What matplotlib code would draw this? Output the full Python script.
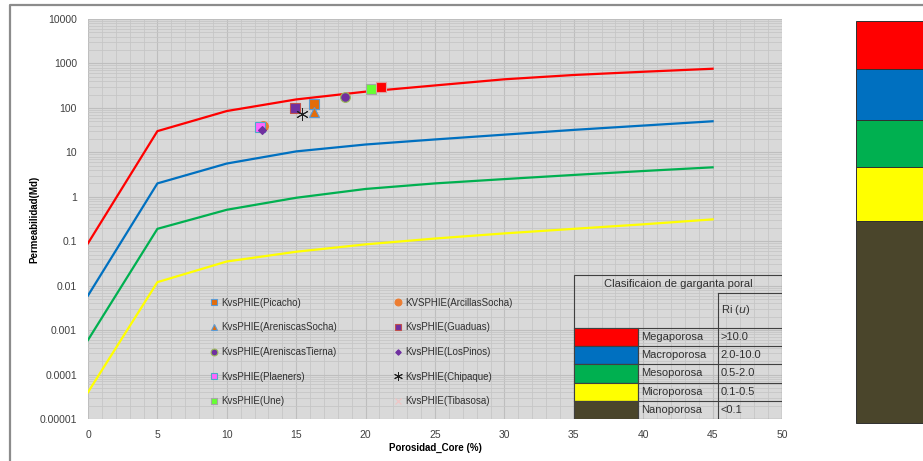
import matplotlib
matplotlib.use("Agg")
import matplotlib.pyplot as plt
from matplotlib.patches import Rectangle
from matplotlib.lines import Line2D
from matplotlib.ticker import FixedLocator, FixedFormatter, LogLocator, MultipleLocator

plt.rcParams['font.family'] = ['Liberation Sans', 'DejaVu Sans']

# porosity (%) where the pore-throat class curves are given
phi = [0, 5, 10, 15, 20, 25, 30, 35, 40, 45]
k_mega = [0.09, 30, 85, 155, 232, 320, 440, 550, 650, 760]
k_macro = [0.006, 2.0, 5.6, 10.5, 15, 19.5, 25, 32, 40, 50]
k_meso = [0.0006, 0.19, 0.51, 0.95, 1.5, 2.0, 2.5, 3.1, 3.8, 4.6]
k_micro = [0.00004, 0.012, 0.035, 0.058, 0.085, 0.115, 0.15, 0.19, 0.24, 0.31]
curve_colors = ['#FF0000', '#0070C0', '#00B050', '#FFFF00']

# core samples: (porosity, permeability)
picacho = ([16.3], [121])
arcillas_socha = ([12.6], [40])
areniscas_socha = ([16.3], [81])
guaduas = ([14.9], [98])
areniscas_tierna = ([18.5], [180])
los_pinos = ([12.5], [31])
plaeners = ([12.4], [38])
chipaque = ([15.4], [72])
une = ([20.4], [263])
tibasosa = ([], [])
extra = ([21.1], [290])

# pore-throat classification table
classes = ['Megaporosa', 'Macroporosa', 'Mesoporosa', 'Microporosa', 'Nanoporosa']
ranges = ['>10.0', '2.0-10.0', '0.5-2.0', '0.1-0.5', '<0.1']
class_colors = ['#FF0000', '#0070C0', '#00B050', '#FFFF00', '#4A452B']

ytick_vals = [1e-5, 1e-4, 1e-3, 1e-2, 1e-1, 1, 10, 100, 1000, 10000]
ytick_labels = ['0.00001', '0.0001', '0.001', '0.01', '0.1', '1', '10', '100', '1000', '10000']

fig = plt.figure(figsize=(9.23, 4.61), dpi=100)
ax = fig.add_axes([88/923, 1 - 419/461, 694/923, 400/461])
ax.set_facecolor('#D9D9D9')
ax.set_yscale('log')
ax.set_xlim(0, 50)
ax.set_ylim(1e-5, 1e4)

ax.xaxis.set_major_locator(MultipleLocator(5))
ax.xaxis.set_minor_locator(MultipleLocator(1))
ax.yaxis.set_major_locator(FixedLocator(ytick_vals))
ax.yaxis.set_major_formatter(FixedFormatter(ytick_labels))
ax.yaxis.set_minor_locator(LogLocator(base=10, subs=range(2, 10), numticks=20))
ax.grid(True, which='major', color='#BEBEBE', lw=0.8)
ax.grid(True, which='minor', color='#C6C6C6', lw=0.6)
ax.set_axisbelow(True)
for s in ax.spines.values():
    s.set_visible(False)
ax.tick_params(which='both', length=0, labelsize=7.5, colors='#404040', pad=8)
ax.yaxis.set_minor_formatter(FixedFormatter([]))

for vals, c in zip([k_mega, k_macro, k_meso, k_micro], curve_colors):
    ax.plot(phi, vals, color=c, lw=1.6, zorder=2)

series = [
    (picacho, 'KvsPHIE(Picacho)', dict(marker='s', color='#E46C0A', mec='#5B9BD5')),
    (areniscas_socha, 'KvsPHIE(AreniscasSocha)', dict(marker='^', color='#E46C0A', mec='#5B9BD5')),
    (areniscas_tierna, 'KvsPHIE(AreniscasTierna)', dict(marker='o', color='#7030A0', mec='#9BBB59')),
    (plaeners, 'KvsPHIE(Plaeners)', dict(marker='s', color='#FF66FF', mec='#4BACC6')),
    (une, 'KvsPHIE(Une)', dict(marker='s', color='#66FF33', mec='#A6A6A6')),
    (arcillas_socha, 'KVSPHIE(ArcillasSocha)', dict(marker='o', color='#ED7D31', mec='#ED7D31')),
    (guaduas, 'KvsPHIE(Guaduas)', dict(marker='s', color='#7030A0', mec='#C0504D')),
    (los_pinos, 'KvsPHIE(LosPinos)', dict(marker='D', color='#7030A0', mec='#7030A0', ms=4)),
    (chipaque, 'KvsPHIE(Chipaque)', dict(marker=(6, 2, 0), color='#202020', mec='#202020', ms=9, mew=0.7)),
    (tibasosa, 'KvsPHIE(Tibasosa)', dict(marker='x', color='#F2C4C4', mec='#F2C4C4')),
]
zorder_map = {'KVSPHIE(ArcillasSocha)': 3, 'KvsPHIE(Plaeners)': 4}
handles = []
for (xs, ys), label, style in series:
    st = dict(ms=7, mew=0.8, ls='none')
    st.update(style)
    h, = ax.plot(xs, ys, label=label, zorder=zorder_map.get(label, 5), **st)
    handles.append(h)
ax.plot(extra[0], extra[1], ls='none', marker='s', ms=7, color='#FF0000',
        mec='#E0A0A0', mew=0.8, zorder=5)

leg = ax.legend(handles=handles, ncol=2, loc='upper left',
                bbox_to_anchor=(0.165, 0.325), frameon=False, fontsize=7,
                handlelength=0.6, handletextpad=0.4, labelspacing=1.5,
                columnspacing=6.0, markerscale=0.7)
for t in leg.get_texts():
    t.set_color('#303030')

ax.set_xlabel('Porosidad_Core (%)', fontsize=7, fontweight='bold', labelpad=2)
ax.set_ylabel('Permeabilidad(Md)', fontsize=7, fontweight='bold', labelpad=0)

# classification table (axes fraction coordinates)
tx = [0.700, 0.7925, 0.9078, 1.0]
ty = [0.36, 0.316, 0.228, 0.1825, 0.1375, 0.091, 0.045, 0.0]
edge = '#404040'
tr = ax.transAxes
ax.add_patch(Rectangle((tx[0], ty[-1]), tx[3] - tx[0], ty[0] - ty[-1],
                       transform=tr, fill=False, ec=edge, lw=0.8, zorder=6))
ax.plot([tx[2], tx[3]], [ty[1], ty[1]], transform=tr, color=edge, lw=0.8, zorder=6)
ax.plot([tx[2], tx[2]], [ty[1], ty[-1]], transform=tr, color=edge, lw=0.8, zorder=6)
ax.text((tx[0] + tx[3]) / 2, (ty[0] + ty[1]) / 2, 'Clasificaion de garganta poral',
        transform=tr, ha='center', va='center', fontsize=8, color='#303030', zorder=7)
ax.text(tx[2] + 0.004, (ty[1] + ty[2]) / 2, r'Ri ($\mathit{u}$)', transform=tr,
        ha='left', va='center', fontsize=8, color='#303030', zorder=7)
for i, (name, rng, c) in enumerate(zip(classes, ranges, class_colors)):
    top, bot = ty[2 + i], ty[3 + i]
    ax.plot([tx[0], tx[3]], [top, top], transform=tr, color=edge, lw=0.8, zorder=6)
    ax.add_patch(Rectangle((tx[0], bot), tx[1] - tx[0], top - bot, transform=tr,
                           fc=c, ec=edge, lw=0.8, zorder=6))
    ax.plot([tx[1], tx[1]], [top, bot], transform=tr, color=edge, lw=0.8, zorder=6)
    ax.text(tx[1] + 0.004, (top + bot) / 2, name, transform=tr, ha='left',
            va='center', fontsize=8, color='#303030', zorder=7)
    ax.text(tx[2] + 0.004, (top + bot) / 2, rng, transform=tr, ha='left',
            va='center', fontsize=8, color='#303030', zorder=7)

# color bar at the right (figure coordinates)
bar_edges = [0.9544, 0.8497, 0.7397, 0.6384, 0.5213, 0.0831]
for i, c in enumerate(class_colors):
    fig.patches.append(Rectangle((856/923, bar_edges[i + 1]), 0.08,
                                 bar_edges[i] - bar_edges[i + 1],
                                 transform=fig.transFigure, fc=c,
                                 ec='#303030', lw=0.7))

# outer chart border
fig.lines.append(Line2D([10/923, 10/923, 1.0], [0.0, 1 - 5/461, 1 - 5/461],
                        transform=fig.transFigure, color='#8C8C8C', lw=1.6))

fig.savefig('out.png', dpi=100)
